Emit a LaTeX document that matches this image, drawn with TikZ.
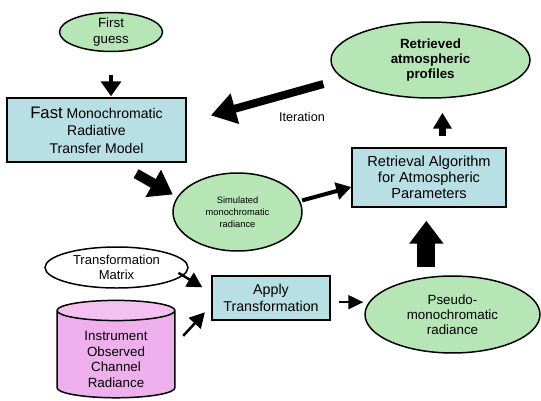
\documentclass[tikz,border=0pt]{standalone}
\usepackage{fontspec}
\setmainfont{Liberation Sans}
\usetikzlibrary{shapes.geometric}
\usetikzlibrary{arrows.meta}
\usetikzlibrary{calc}
\definecolor{lgreen}{RGB}{182,230,182}
\definecolor{lblue}{RGB}{184,224,228}
\definecolor{lpink}{RGB}{238,176,236}
\definecolor{lpinktop}{RGB}{243,192,240}

\begin{document}
\begin{tikzpicture}
  [x=0.02cm,y=-0.02cm,
  txt/.style 2 args={font=\fontsize{#1}{#2}\selectfont},
  greenell/.style={ellipse,draw=black,fill=lgreen,line width=0.85pt,inner sep=0pt,align=center},
  whiteell/.style={ellipse,draw=black,fill=white,line width=0.85pt,inner sep=0pt,align=center},
  bluebox/.style={rectangle,draw=black,fill=lblue,line width=0.85pt,inner sep=0pt,align=center},
  arr/.style n args={3}{line width=#1,-{Triangle[width=#2,length=#3]}}]
  \useasboundingbox (0,0) rectangle (541,400);

  \node[greenell,minimum width=2.06cm,minimum height=0.7cm,txt={7.6}{8.6}] (guess) at (111,32) {First\\guess};
  \node[bluebox,minimum width=3.58cm,minimum height=1.28cm,txt={8}{9.9}] (fast) at (96.5,130) {{\fontsize{9.5}{9.9}\selectfont Fast} Monochromatic\\Radiative\\Transfer Model};
  \node[greenell,minimum width=3.98cm,minimum height=1.52cm,txt={7.6}{8.6}] (retrieved) at (430.5,60) {\bfseries Retrieved\\\bfseries atmospheric\\\bfseries profiles};
  \node[bluebox,minimum width=3.08cm,minimum height=1.18cm,txt={8.3}{9.1}] (retrieval) at (429,177.5) {Retrieval Algorithm\\for Atmospheric\\Parameters};
  \node[greenell,minimum width=2.58cm,minimum height=1.56cm,txt={5.3}{6.8}] (sim) at (237.5,212) {Simulated\\monochromatic\\radiance};
  \node[whiteell,minimum width=2.86cm,minimum height=0.82cm,txt={7.4}{8.9}] (tm) at (116.5,267.5) {Transformation\\Matrix};
  \node[bluebox,minimum width=2.36cm,minimum height=0.88cm,txt={8.1}{10}] (apply) at (271,298) {Apply\\Transformation};
  \node[greenell,minimum width=3.5cm,minimum height=1.54cm,txt={7.6}{8.5}] (pseudo) at (452.5,314.5) {Pseudo-\\monochromatic\\radiance};
  \node[cylinder,shape border rotate=90,aspect=0.32,draw=black,line width=0.85pt,cylinder uses custom fill,
    cylinder body fill=lpink,cylinder end fill=lpinktop,minimum width=2.36cm,minimum height=1.78cm,
    inner sep=0pt,align=center,txt={7.6}{8.9}] (obs) at (116,354.5) {\rule{0pt}{11pt}Instrument\\Observed\\Channel\\Radiance};
  \node[txt={7.2}{8}] (iter) at (302,117) {Iteration};

  \draw[arr={0.08cm}{0.4cm}{0.3cm},shorten <=0.45cm,shorten >=0.02cm] (guess.south) -- (guess.south |- fast.north);
  \draw[arr={0.16cm}{0.6cm}{0.5cm},shorten <=0.4cm,shorten >=0.5cm] (retrieved.192) -- (fast.5);
  \draw[arr={0.2cm}{0.6cm}{0.45cm},shorten <=0.44cm,shorten >=0.1cm] (fast.-58.6) -- (sim.166.5);
  \draw[arr={0.08cm}{0.34cm}{0.3cm},shorten <=0.04cm] (sim.10) -- (retrieval.187);
  \draw[arr={0.14cm}{0.36cm}{0.32cm},shorten <=0.22cm,shorten >=0.28cm] (retrieval.66) -- (retrieval.66 |- retrieved.south);
  \draw[arr={0.05cm}{0.32cm}{0.3cm},shorten <=-0.11cm,shorten >=0.21cm] (tm.-7.3) -- (apply.175);
  \draw[arr={0.05cm}{0.32cm}{0.3cm},shorten <=0.22cm,shorten >=0.19cm] (obs.10) -- (apply.187);
  \draw[arr={0.04cm}{0.28cm}{0.3cm},shorten <=0.16cm,shorten >=0.02cm] (apply.-4) -- (apply.-4 -| pseudo.west);
  \draw[arr={0.36cm}{0.66cm}{0.46cm},shorten <=0.16cm,shorten >=0.26cm] (retrieval.-95 |- pseudo.north) -- (retrieval.-95);
\end{tikzpicture}
\end{document}
